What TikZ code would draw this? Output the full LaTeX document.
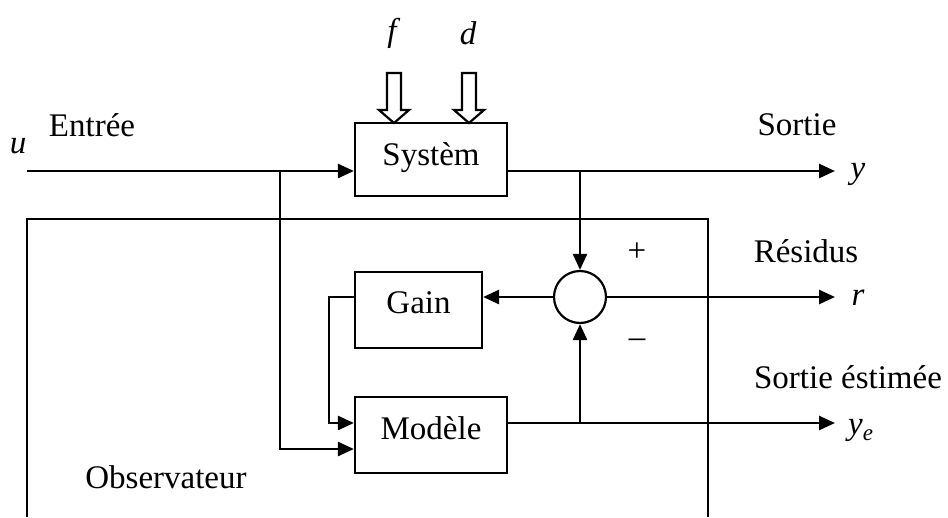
\documentclass[tikz,border=0pt]{standalone}
\usepackage{fontspec}
\setmainfont{Liberation Serif}
\usetikzlibrary{arrows.meta,calc}
\tikzset{
  blk/.style={draw, line width=2.2pt, inner sep=0pt},
  lbl/.style={font=\fontsize{33}{39}\selectfont, inner sep=0pt},
  ital/.style={font=\fontsize{33}{39}\selectfont\itshape, inner sep=0pt},
  conn/.style={line width=2.6pt},
  arr/.style={conn, -{Triangle[length=16pt,width=14pt]}},
  hollow/.style={draw, line width=2.2pt, fill=white}
}
\begin{document}
\begin{tikzpicture}[x=1pt,y=-1pt]
\useasboundingbox (0,0) rectangle (948,517);
% blocks
\node[blk, minimum width=152pt, minimum height=73pt] (sys) at (431,159.5) {};
\node[lbl, yshift=2pt] (systxt) at (sys.center) {Systèm};
\node[blk, minimum width=127pt, minimum height=76pt] (gain) at (418.5,310) {};
\node[lbl, yshift=7pt] (gaintxt) at (gain.center) {Gain};
\node[blk, minimum width=152pt, minimum height=76pt] (model) at (431,435) {};
\node[lbl, yshift=7pt] (modeltxt) at (model.center) {Modèle};
\node[draw, circle, line width=2.2pt, minimum size=52pt, inner sep=0pt] (s) at (580,297) {};
% observer frame
\draw[line width=2.2pt] (27,517) -- (27,219) -- (708,219) -- (708,517);
% coordinates
\coordinate (u) at (27,171);
\coordinate (yout) at (835,171);
\coordinate (rout) at (835,297);
\coordinate (yeout) at (835,423);
\coordinate (bl) at (280,171);
\coordinate (lp) at (329,297);
% hollow arrows
\draw[hollow] (387,73) -- (401,73) -- (401,110) -- (409,110) -- (394,123) -- (379,110) -- (387,110) -- cycle;
\draw[hollow] (462,73) -- (476,73) -- (476,110) -- (484,110) -- (469,123) -- (454,110) -- (462,110) -- cycle;
% connectors
\draw[arr] (u) -- (u -| sys.west);
\draw[arr] (sys.east |- u) -- (yout);
\draw[arr] (s.north |- u) -- (s.north);
\draw[arr] (s.west) -- (s.west -| gain.east);
\draw[arr] (s.east) -- (rout);
\draw[arr] (model.east |- yeout) -- (yeout);
\draw[arr] (s.south |- yeout) -- (s.south);
\draw[arr] (gain.west |- s) -- (lp) -- (lp |- yeout) -- (model.west |- yeout);
\draw[arr] (bl) -- (280,449) -- (model.west |- 0,449);
% labels
\node[ital] (lf) at (392,33) {f};
\node[ital] (ld) at (468,33) {d};
\node[ital] (lu) at (18,146) {u};
\node[lbl] (lentree) at (92,125) {Entrée};
\node[lbl] (lsortie) at (797,125) {Sortie};
\node[ital] (ly) at (858,174) {y};
\node[lbl] (lres) at (806,251) {Résidus};
\node[ital] (lr) at (858,298) {r};
\node[lbl] (lse) at (848,377) {Sortie éstimée};
\node[ital, anchor=west] (lye) at (848,430) {y\raisebox{-6pt}{\fontsize{23}{23}\selectfont e}};
\node[lbl] (lobs) at (166,477) {Observateur};
\node[lbl] (lplus) at (637,252) {+};
\node[lbl] (lminus) at (637,343) {\textendash};
\end{tikzpicture}
\end{document}
